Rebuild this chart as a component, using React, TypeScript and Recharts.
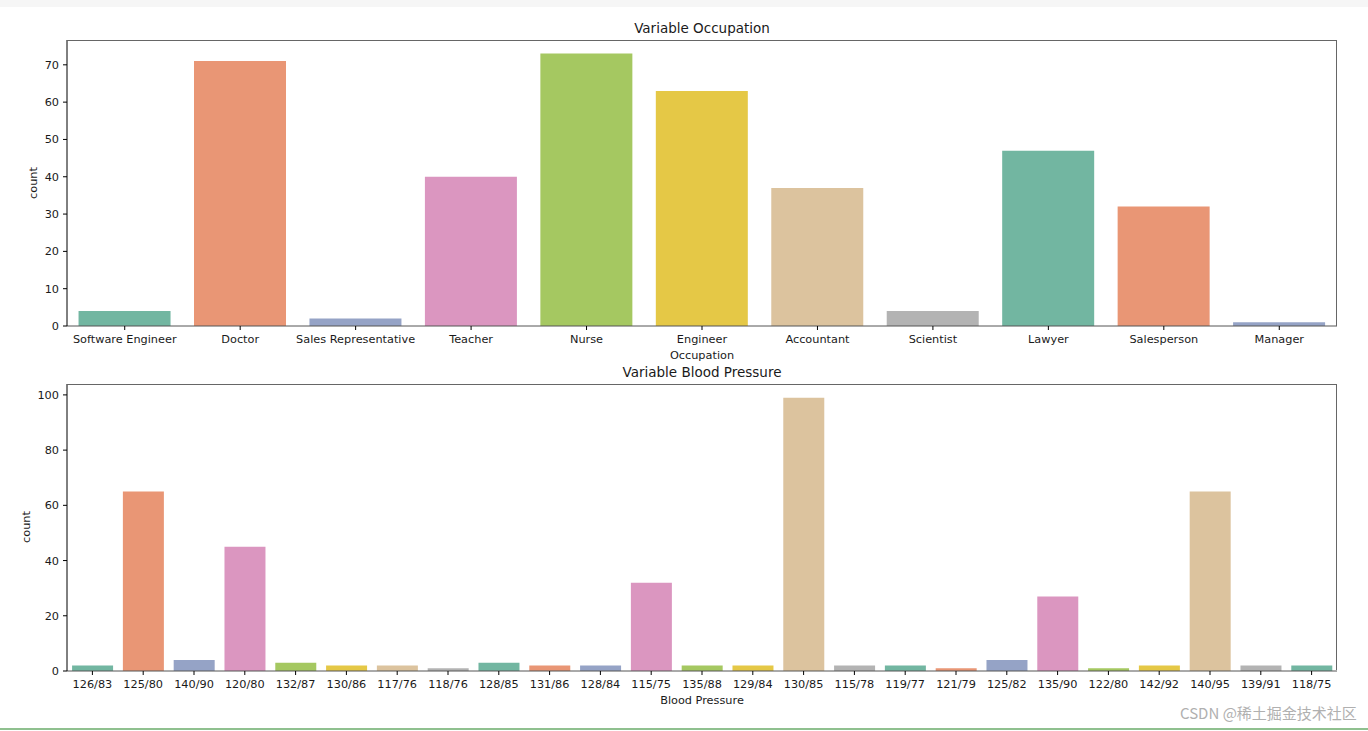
import React from 'react';
import { BarChart, Bar, XAxis, YAxis, Cell } from 'recharts';

const occupations = ['Software Engineer', 'Doctor', 'Sales Representative', 'Teacher', 'Nurse', 'Engineer', 'Accountant', 'Scientist', 'Lawyer', 'Salesperson', 'Manager'];
const occupationCounts = [4, 71, 2, 40, 73, 63, 37, 4, 47, 32, 1];
const occupationTicks = [0, 10, 20, 30, 40, 50, 60, 70];

const pressures = ['126/83', '125/80', '140/90', '120/80', '132/87', '130/86', '117/76', '118/76', '128/85', '131/86', '128/84', '115/75', '135/88', '129/84', '130/85', '115/78', '119/77', '121/79', '125/82', '135/90', '122/80', '142/92', '140/95', '139/91', '118/75'];
const pressureCounts = [2, 65, 4, 45, 3, 2, 2, 1, 3, 2, 2, 32, 2, 2, 99, 2, 2, 1, 4, 27, 1, 2, 65, 2, 2];
const pressureTicks = [0, 20, 40, 60, 80, 100];

const palette = ['#72b6a1', '#e99675', '#95a3c6', '#db96c0', '#a5c861', '#e5c846', '#dcc39e', '#b3b3b3'];

const occupationData = occupations.map((name, i) => ({ name, count: occupationCounts[i] }));
const pressureData = pressures.map((name, i) => ({ name, count: pressureCounts[i] }));

const FONT = "'DejaVu Sans', sans-serif";
const tickStyle = { fontFamily: FONT, fontSize: 11.3, fill: '#1a1a1a' };

function Txt({ x, y, size, children, rotate }: { x: number; y: number; size: number; children: React.ReactNode; rotate?: boolean }) {
  return (
    <div
      style={{
        position: 'absolute',
        left: x,
        top: y,
        transform: `translate(-50%, -50%)${rotate ? ' rotate(-90deg)' : ''}`,
        fontFamily: FONT,
        fontSize: size,
        lineHeight: `${size}px`,
        color: '#1a1a1a',
        whiteSpace: 'nowrap',
      }}
    >
      {children}
    </div>
  );
}

function Frame({ top }: { top: number }) {
  return (
    <div
      style={{
        position: 'absolute',
        left: 67,
        top,
        width: 1270,
        height: 286,
        borderTop: '1px solid #666',
        borderRight: '1px solid #666',
        boxSizing: 'border-box',
        pointerEvents: 'none',
      }}
    />
  );
}

function Panel({ data, max, ticks, width, height, margin }: any) {
  return (
    <BarChart width={width} height={height} data={data} margin={margin} barCategoryGap="10%">
      <XAxis
        dataKey="name"
        interval={0}
        tick={tickStyle}
        tickSize={4}
        tickMargin={5}
        height={30}
        tickLine={{ stroke: '#000' }}
        axisLine={{ stroke: '#555' }}
      />
      <YAxis
        domain={[0, max]}
        ticks={ticks}
        tick={tickStyle}
        tickSize={4}
        tickMargin={4}
        width={50}
        tickLine={{ stroke: '#000' }}
        axisLine={{ stroke: '#000' }}
        allowDataOverflow
      />
      <Bar dataKey="count" isAnimationActive={false}>
        {data.map((_: any, i: number) => (
          <Cell key={i} fill={palette[i % palette.length]} />
        ))}
      </Bar>
    </BarChart>
  );
}

export default function App() {
  return (
    <div style={{ position: 'absolute', left: 0, top: 0, width: 1368, height: 731, background: '#fff', overflow: 'hidden' }}>
      <div style={{ position: 'absolute', left: 0, top: 0, width: 1368, height: 7, background: '#f6f6f6' }} />
      <div style={{ position: 'absolute', left: 0, top: 0 }}>
        <Panel
          data={occupationData}
          max={76.65}
          ticks={occupationTicks}
          width={1368}
          height={370}
          margin={{ top: 40, right: 31, left: 17, bottom: 14 }}
        />
      </div>
      <div style={{ position: 'absolute', left: 0, top: 360 }}>
        <Panel
          data={pressureData}
          max={103.95}
          ticks={pressureTicks}
          width={1368}
          height={371}
          margin={{ top: 24, right: 31, left: 17, bottom: 30 }}
        />
      </div>
      <Frame top={40} />
      <Frame top={384} />
      <Txt x={702} y={29} size={13.5}>Variable Occupation</Txt>
      <Txt x={702} y={356} size={11.3}>Occupation</Txt>
      <Txt x={34} y={183} size={11.3} rotate>count</Txt>
      <Txt x={702} y={373} size={13.5}>Variable Blood Pressure</Txt>
      <Txt x={702} y={701} size={11.3}>Blood Pressure</Txt>
      <Txt x={27} y={527} size={11.3} rotate>count</Txt>
      <div style={{ position: 'absolute', left: 1180, top: 702, fontFamily: "'Noto Sans CJK SC', sans-serif", fontSize: 15, color: '#b0b0b0', whiteSpace: 'nowrap' }}>
        CSDN @稀土掘金技术社区
      </div>
      <div style={{ position: 'absolute', left: 0, top: 728, width: 1368, height: 2, background: '#8fc08f' }} />
    </div>
  );
}
